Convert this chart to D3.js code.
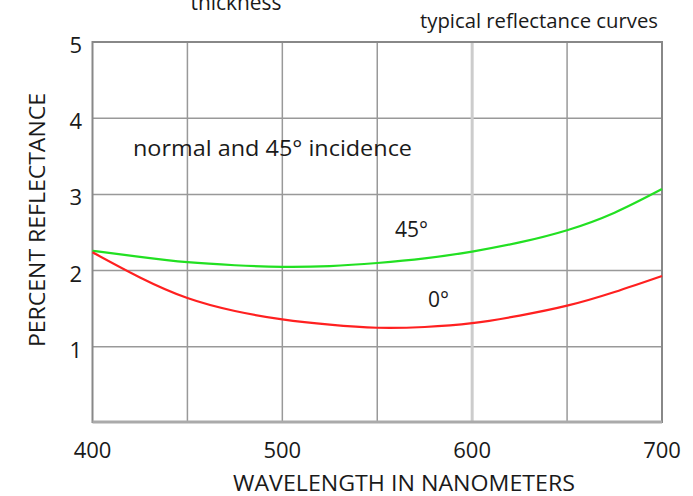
<!DOCTYPE html>
<html>
<head>
<meta charset="utf-8">
<script src="https://cdn.jsdelivr.net/npm/d3@7/dist/d3.min.js"></script>
<style>
    body { margin: 0; background: #fff; }
    svg text { font-family: "Open Sans", sans-serif; fill: #1a1a1a; }
</style>
</head>
<body>
<svg id="chart" width="693" height="496"></svg>
<script>
    // wavelengths (nm) and percent reflectance
    var wavelengths = [400, 425, 450, 475, 500, 525, 550, 575, 600, 625, 650, 675, 700];
    var incidence45 = [2.26, 2.18, 2.11, 2.07, 2.05, 2.06, 2.10, 2.16, 2.25, 2.37, 2.53, 2.76, 3.07];
    var incidence0 = [2.24, 1.91, 1.64, 1.47, 1.36, 1.29, 1.25, 1.26, 1.31, 1.41, 1.54, 1.72, 1.93];

    var xGrid = [450, 500, 550, 600, 650];
    var xLabels = [400, 500, 600, 700];
    var yTicks = [1, 2, 3, 4, 5];

    var plot = {left: 92.5, right: 662, top: 42, bottom: 423};

    var svg = d3.select("#chart");

    var x = d3.scaleLinear().domain([400, 700]).range([plot.left, plot.right]);
    var y = d3.scaleLinear().domain([0, 5]).range([plot.bottom, plot.top]);

    // horizontal grid
    svg.append("g").selectAll("line")
        .data(yTicks.slice(0, 4))
        .enter().append("line")
        .attr("x1", plot.left).attr("x2", plot.right)
        .attr("y1", function (d) { return y(d); })
        .attr("y2", function (d) { return y(d); })
        .attr("stroke", "#999").attr("stroke-width", 1.5);

    // vertical grid (600 is drawn lighter and wider, as in the scan)
    svg.append("g").selectAll("line")
        .data(xGrid)
        .enter().append("line")
        .attr("x1", function (d) { return x(d); })
        .attr("x2", function (d) { return x(d); })
        .attr("y1", plot.top).attr("y2", plot.bottom)
        .attr("stroke", function (d) { return d === 600 ? "#ccc" : "#999"; })
        .attr("stroke-width", function (d) { return d === 600 ? 3 : 1.5; });

    // frame
    svg.append("rect")
        .attr("x", plot.left).attr("y", plot.top)
        .attr("width", plot.right - plot.left).attr("height", plot.bottom - plot.top - 1)
        .attr("fill", "none").attr("stroke", "#888").attr("stroke-width", 2);
    svg.append("line")
        .attr("x1", plot.left).attr("x2", plot.right)
        .attr("y1", plot.bottom - 1).attr("y2", plot.bottom - 1)
        .attr("stroke", "#aaa").attr("stroke-width", 3);

    // tick labels
    svg.append("g").selectAll("text")
        .data(yTicks)
        .enter().append("text")
        .attr("x", 82)
        .attr("y", function (d) { return y(d) + 11; })
        .attr("text-anchor", "end")
        .style("font-size", "22px")
        .text(function (d) { return d; });

    svg.append("g").selectAll("text")
        .data(xLabels)
        .enter().append("text")
        .attr("x", function (d) { return x(d); })
        .attr("y", 458)
        .attr("text-anchor", "middle")
        .style("font-size", "22px")
        .text(function (d) { return d; });

    // axis titles
    svg.append("text")
        .attr("x", 404).attr("y", 491)
        .attr("text-anchor", "middle")
        .style("font-size", "22px")
        .attr("textLength", 342).attr("lengthAdjust", "spacingAndGlyphs")
        .text("WAVELENGTH IN NANOMETERS");

    svg.append("text")
        .attr("transform", "translate(45,220) rotate(-90)")
        .attr("text-anchor", "middle")
        .style("font-size", "22px")
        .attr("textLength", 254).attr("lengthAdjust", "spacingAndGlyphs")
        .text("PERCENT REFLECTANCE");

    // annotations
    svg.append("text")
        .attr("x", 236).attr("y", 10)
        .attr("text-anchor", "middle")
        .style("font-size", "21px")
        .attr("textLength", 91).attr("lengthAdjust", "spacingAndGlyphs")
        .text("thickness");

    svg.append("text")
        .attr("x", 539).attr("y", 28)
        .attr("text-anchor", "middle")
        .style("font-size", "20px")
        .attr("textLength", 238).attr("lengthAdjust", "spacingAndGlyphs")
        .text("typical reflectance curves");

    svg.append("text")
        .attr("x", 133).attr("y", 156)
        .style("font-size", "21px")
        .attr("textLength", 279).attr("lengthAdjust", "spacingAndGlyphs")
        .text("normal and 45° incidence");

    svg.append("text")
        .attr("x", 395).attr("y", 237)
        .style("font-size", "21px")
        .text("45°");

    svg.append("text")
        .attr("x", 428).attr("y", 307)
        .style("font-size", "21px")
        .text("0°");

    // curves
    var line = d3.line()
        .x(function (d, i) { return x(wavelengths[i]); })
        .y(function (d) { return y(d); })
        .curve(d3.curveNatural);

    svg.append("path")
        .attr("d", line(incidence45))
        .attr("fill", "none").attr("stroke", "#22e022").attr("stroke-width", 2.2);

    svg.append("path")
        .attr("d", line(incidence0))
        .attr("fill", "none").attr("stroke", "#ff2020").attr("stroke-width", 2.2);
</script>
</body>
</html>
